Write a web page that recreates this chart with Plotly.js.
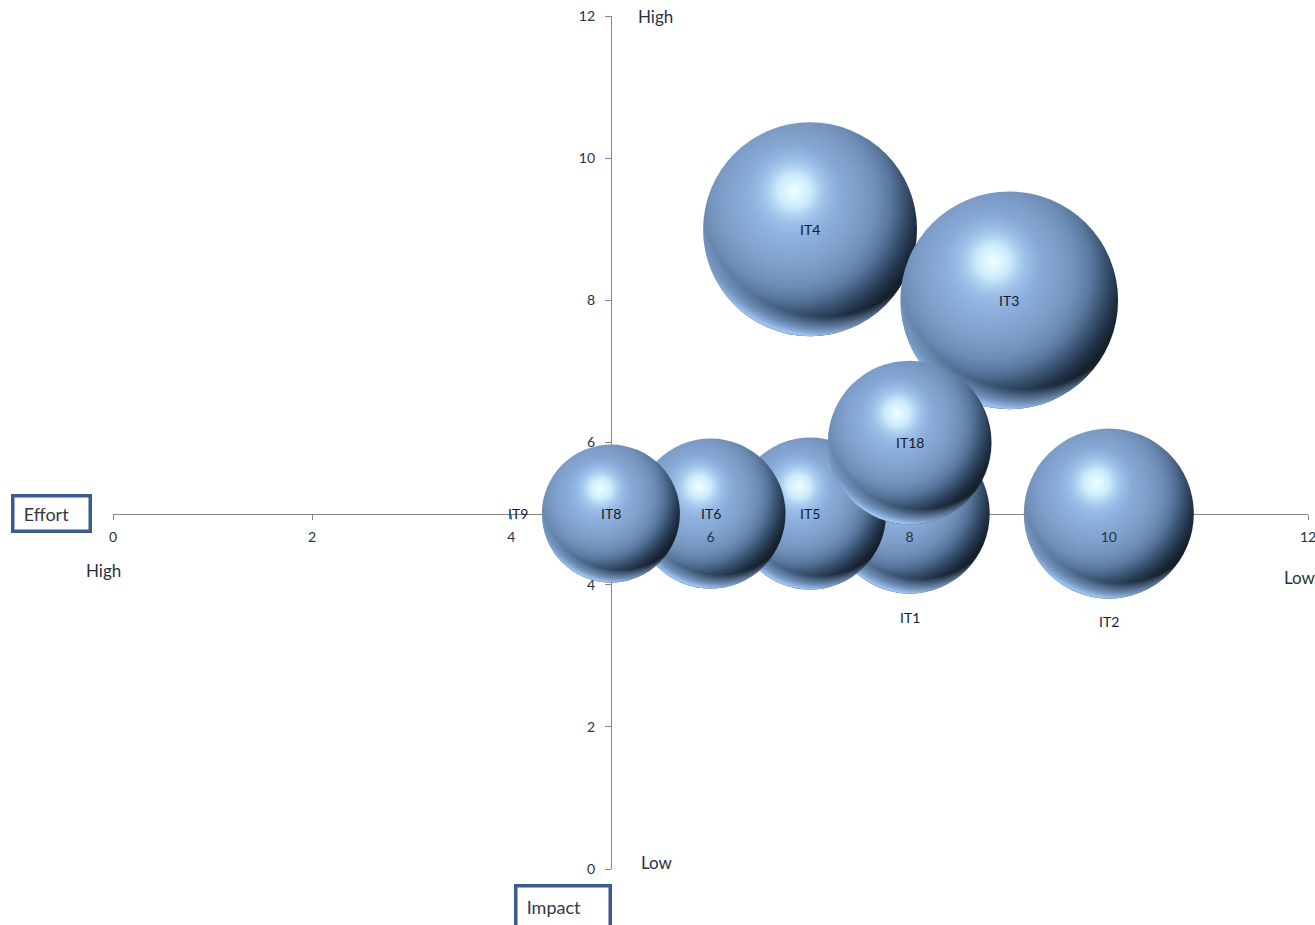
<!DOCTYPE html>
<html>
<head>
<meta charset="utf-8">
<script src="https://cdn.plot.ly/plotly-3.0.1.min.js"></script>
<style>html,body{margin:0;padding:0;background:#fff;overflow:hidden}#chart{width:1315px;height:925px}</style>
</head>
<body>
<div id="chart"></div>
<script>
var names = ["IT2","IT1","IT4","IT3","IT5","IT6","IT9","IT8","IT18"];
var effort = [10,8,7,9,7,6,5,5,8];
var impact = [5,5,9,8,5,5,5,5,6];
var bubbleSize = [6.25,5.54,9.9,10.25,5.0,4.87,3.0,4.12,5.8];
var labelX = [10,8,7,9,7,6,4.07,5,8];
var labelY = [3.48,3.54,9,8,5,5,5,5,6];
var xTicks = [0,2,4,6,8,10,12];
var yTicks = [0,2,4,6,8,10,12];
var FONT = "Lato, Carlito, sans-serif";

var bubbles = {
  type:'scatter', mode:'markers', x:effort, y:impact, text:names, hoverinfo:'text', cliponaxis:false,
  marker:{size:bubbleSize, sizemode:'area', sizeref:2*10/(215*215), sizemin:1, color:'#8aaad6', line:{width:0}, opacity:1}
};
var tickCarrier = {
  type:'scatter', mode:'markers', x:[xTicks[0]], y:[yTicks[0]], xaxis:'x2', yaxis:'y',
  marker:{size:1, opacity:0}, hoverinfo:'skip'
};

var annotations = names.map(function(n,i){
  return {x:labelX[i], y:labelY[i], xref:'x', yref:'y', text:n, showarrow:false, xanchor:'center', yanchor:'middle',
          font:{family:FONT,size:14,color:'#141d28'}};
});
function corner(text,x,y){
  return {x:x,y:y,xref:'paper',yref:'paper',text:text,showarrow:false,xanchor:'center',yanchor:'middle',
          font:{family:FONT,size:17,color:'#26323f'}};
}
annotations.push(corner('High',(103-113)/1195,(869-570)/853));
annotations.push(corner('Low',(1300-113)/1195,(869-577)/853));
annotations.push(corner('High',(655-113)/1195,(869-16)/853));
annotations.push(corner('Low',(657-113)/1195,(869-862)/853));
function boxed(text,cx,cy,w,h){
  return {x:(cx-113)/1195,y:(869-cy)/853,xref:'paper',yref:'paper',text:'&nbsp;&nbsp;'+text,showarrow:false,width:w,height:h,
          xanchor:'center',yanchor:'middle',align:'left',bordercolor:'#3b5b8c',borderwidth:3.5,borderpad:0,bgcolor:'#ffffff',
          font:{family:FONT,size:18,color:'#333a42'}};
}
annotations.push(boxed('Effort',51,513.5,74,32));
annotations.push(boxed('Impact',562.5,906.5,91,38));

var layout = {
  width:1315, height:925, showlegend:false, paper_bgcolor:'#fff', plot_bgcolor:'#fff',
  margin:{l:113,r:7,t:16,b:56,pad:0},
  font:{family:FONT,size:14,color:'#333'},
  xaxis:{range:[0,12],anchor:'free',position:5/12,tickvals:xTicks,showticklabels:false,ticks:'outside',ticklen:5,
         tickcolor:'#868686',showline:true,linecolor:'#868686',linewidth:1,showgrid:false,zeroline:false,layer:'below traces'},
  xaxis2:{range:[0,12],overlaying:'x',anchor:'free',position:5/12,side:'bottom',tickvals:xTicks,ticktext:xTicks.map(String),
          ticks:'',ticklen:0,showline:false,showgrid:false,zeroline:false,layer:'above traces',ticklabeloverflow:'allow',
          ticklabelstandoff:13,tickfont:{family:FONT,size:14,color:'#26323f'}},
  yaxis:{range:[0,12],anchor:'free',position:5/12,tickvals:yTicks,ticks:'outside',ticklen:6,tickcolor:'#868686',
         showline:true,linecolor:'#868686',linewidth:1,showgrid:false,zeroline:false,layer:'below traces',
         ticklabelstandoff:7,tickfont:{family:FONT,size:14,color:'#26323f'}},
  annotations:annotations
};

function addGrad(defs,id,attrs,stops){
  var NS='http://www.w3.org/2000/svg', g=document.createElementNS(NS,'radialGradient');
  g.setAttribute('id',id);
  Object.keys(attrs).forEach(function(k){g.setAttribute(k,attrs[k]);});
  stops.forEach(function(s){
    var st=document.createElementNS(NS,'stop');
    st.setAttribute('offset',s[0]); st.setAttribute('stop-color',s[1]); st.setAttribute('stop-opacity',s[2]);
    g.appendChild(st);
  });
  defs.appendChild(g);
}

Plotly.newPlot('chart',[bubbles,tickCarrier],layout,{displayModeBar:false,responsive:false}).then(function(gd){
  var svg=gd.querySelector('svg.main-svg');
  var defs=svg.querySelector('defs');
  addGrad(defs,'sphereBase',{cx:.41,cy:.36,r:.63},[
    [0,'#9dbfea',1],[.3,'#8db0de',1],[.5,'#7f9fcb',1],[.64,'#6f8eb6',1],[.74,'#5a789e',1],[.84,'#3b5473',1],[.93,'#22344a',1],[1,'#16212e',1]]);
  addGrad(defs,'sphereRim',{cx:.56,cy:.34,r:.66},[
    [0,'#9cc0ee',0],[.86,'#9cc0ee',0],[.93,'#89aedd',.6],[1,'#9cc2f2',1]]);
  addGrad(defs,'sphereHi',{cx:.426,cy:.32,r:.22},[
    [0,'#f0ffff',1],[.35,'#d6f4fe',.85],[.7,'#b0d6f5',.35],[1,'#a3c4ee',0]]);
  var pts=gd.querySelectorAll('.scatterlayer .trace:first-child path.point');
  pts.forEach(function(p){
    p.style.fill='url(#sphereBase)';
    var rim=p.cloneNode(true); rim.style.fill='url(#sphereRim)';
    var hi=p.cloneNode(true); hi.style.fill='url(#sphereHi)';
    p.parentNode.insertBefore(rim,p.nextSibling);
    p.parentNode.insertBefore(hi,rim.nextSibling);
  });
});
</script>
</body>
</html>
